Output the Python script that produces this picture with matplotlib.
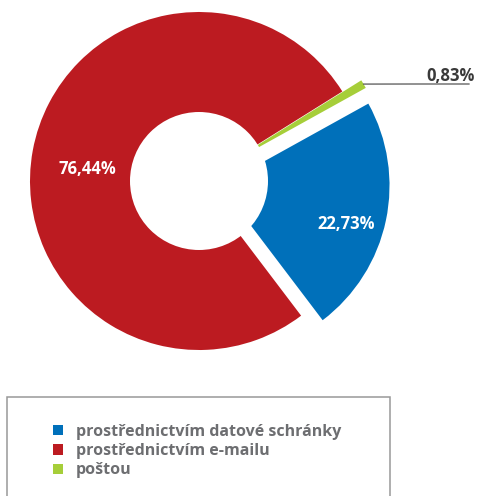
import math
import matplotlib
matplotlib.use("Agg")
import matplotlib.pyplot as plt
from matplotlib.patches import Rectangle, Circle

plt.rcParams['font.family'] = ['Open Sans', 'DejaVu Sans']

# data
labels = ['prostřednictvím datové schránky', 'prostřednictvím e-mailu', 'poštou']
values = [22.73, 76.44, 0.83]
colors = ['#0070BA', '#BC1B21', '#A6CE39']

W, H = 478, 496
fig = plt.figure(figsize=(W / 100, H / 100), dpi=100)
ax = fig.add_axes([0, 0, 1, 1])

cx, cy, R = 199, H - 181, 169
wedges, texts, autotexts = ax.pie(
    values, colors=colors, startangle=29, counterclock=False,
    center=(cx, cy), radius=R, explode=[22, 0, 22],
    wedgeprops=dict(linewidth=0),
    autopct=lambda p: ('%.2f%%' % p).replace('.', ','),
    textprops=dict(color='white', fontsize=12, fontweight='bold'))

# white hole drawn over the exploded pie
ax.add_patch(Circle((cx, cy), 69, facecolor='white', edgecolor='none', zorder=2))

# label placement tuned per wedge: (fraction of radius, angle shift)
pct_pos = [(0.78, -5), (0.665, 4.5), None]
for w, t, p in zip(wedges, autotexts, pct_pos):
    if p is None:
        t.set_visible(False)
        continue
    th = math.radians((w.theta1 + w.theta2) / 2 + p[1])
    wx, wy = w.center
    t.set_position((wx + p[0] * R * math.cos(th), wy + p[0] * R * math.sin(th)))
    t.set_zorder(3)

# outside label for the small slice
g = wedges[2]
th = math.radians((g.theta1 + g.theta2) / 2)
tip = (g.center[0] + R * math.cos(th), g.center[1] + R * math.sin(th))
lx, ly, lend = 418, H - 84, 469
ax.plot([tip[0], lx, lend], [tip[1], ly, ly], color='#555555', lw=0.9, zorder=3)
ax.text(475, ly + 3, ('%.2f%%' % values[2]).replace('.', ','), ha='right', va='baseline',
        fontsize=12, fontweight='bold', color='#3a3a3a')

ax.set_xlim(0, W)
ax.set_ylim(0, H)
ax.set_aspect('equal')
ax.axis('off')

# legend box
ax.add_patch(Rectangle((7, -10), 383, H - 397 + 10, fill=False, edgecolor='#999999', lw=1.1))
leg = ax.legend(wedges, labels, loc='upper left', bbox_to_anchor=(53 / W, 1 - 424 / H),
                frameon=False, handlelength=0.6, handleheight=0.6, handletextpad=0.85,
                labelspacing=0.2, borderpad=0, borderaxespad=0,
                prop=dict(family=['Open Sans', 'DejaVu Sans'], size=11.5, weight='bold'))
for t in leg.get_texts():
    t.set_color('#6D6E71')

fig.savefig('out.png', dpi=100)
